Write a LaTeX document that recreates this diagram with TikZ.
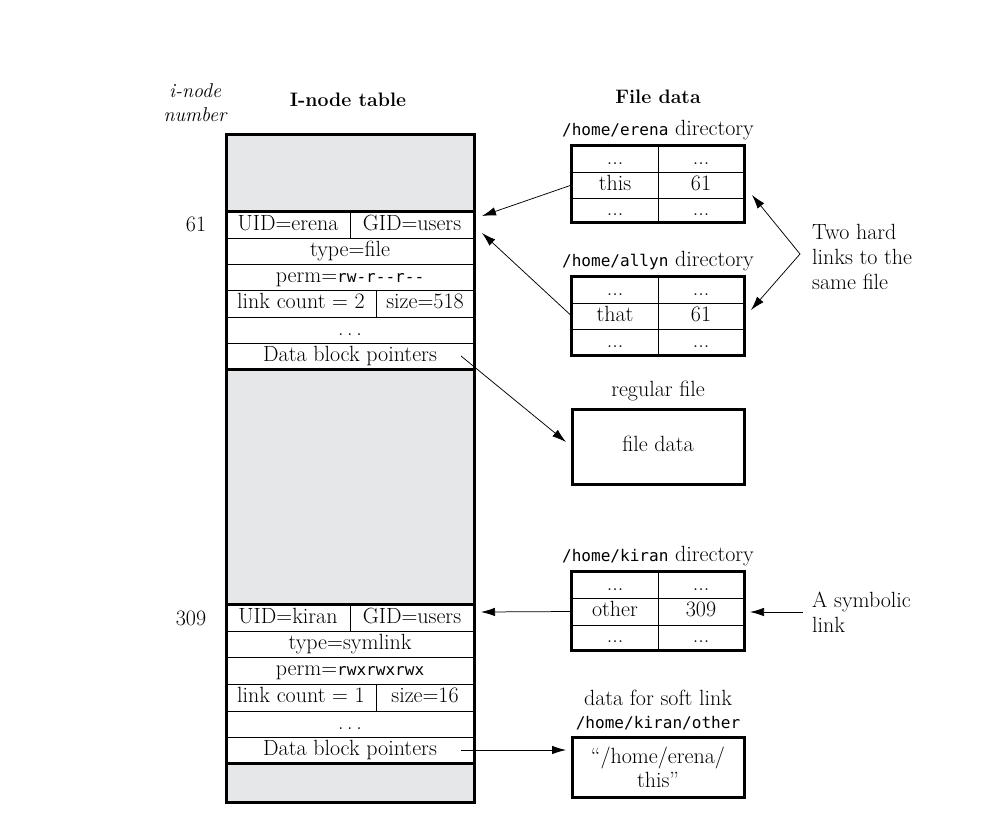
\documentclass[tikz,border=0pt]{standalone}
\usepackage{fontspec}
\setmonofont{DejaVu Sans Mono}[Scale=0.73]
\usetikzlibrary{arrows.meta}
\definecolor{tablegray}{HTML}{E6E7E8}
\begin{document}
\begin{tikzpicture}[x=1pt,y=-1pt,
  txt/.style={font=\fontsize{22}{25}\selectfont, inner sep=0pt},
  cell/.style={draw, line width=0.7pt, fill=white, inner sep=0pt, minimum height=26pt,
    font=\fontsize{22}{25}\selectfont, text height=14.5pt, text depth=4.5pt},
  frame/.style={line width=3pt},
  arr/.style={-{Latex[length=14pt,width=8.5pt]}, line width=0.75pt}]
\useasboundingbox (0,0) rectangle (981,814);

% headings
\node[txt, font=\fontsize{20}{24}\selectfont\itshape, align=center] (inum) at (195,103) {i-node\\number};
\node[txt, font=\fontsize{19.5}{23}\selectfont\bfseries] (ititle) at (348,100) {I-node table};
\node[txt, font=\fontsize{19.5}{23}\selectfont\bfseries] (ftitle) at (658,97) {File data};

% i-node table background
\node[fill=tablegray, inner sep=0pt, minimum width=248pt, minimum height=668pt, anchor=north west] (itable) at (226,134) {};

% i-node 61
\node[cell, minimum width=124pt] (u61) at (288,225) {UID=erena};
\node[cell, minimum width=124pt] (g61) at (412,225) {GID=users};
\node[cell, minimum width=248pt] (t61) at (350,251) {type=file};
\node[cell, minimum width=248pt] (p61) at (350,277) {perm=\texttt{rw-r--r--}};
\node[cell, minimum width=150pt, minimum height=27pt] (l61) at (301,303.5) {link count = 2};
\node[cell, minimum width=98pt, minimum height=27pt] (s61) at (425,303.5) {size=518};
\node[cell, minimum width=248pt] (d61) at (350,330) {.\,.\,.};
\node[cell, minimum width=248pt] (b61) at (350,356) {Data block pointers};

% i-node 309
\node[cell, minimum width=124pt] (u309) at (288,618) {UID=kiran};
\node[cell, minimum width=124pt] (g309) at (412,618) {GID=users};
\node[cell, minimum width=248pt] (t309) at (350,644) {type=symlink};
\node[cell, minimum width=248pt, minimum height=27pt] (p309) at (350,670.5) {perm=\texttt{rwxrwxrwx}};
\node[cell, minimum width=150pt, minimum height=27pt] (l309) at (301,697.5) {link count = 1};
\node[cell, minimum width=98pt, minimum height=27pt] (s309) at (425,697.5) {size=16};
\node[cell, minimum width=248pt] (d309) at (350,724) {.\,.\,.};
\node[cell, minimum width=248pt] (b309) at (350,750) {Data block pointers};

% thick lines of i-node table
\draw[frame] (itable.north west) rectangle (itable.south east);
\draw[frame] (u61.north west) -- (g61.north east);
\draw[frame] (b61.south west) -- (b61.south east);
\draw[frame] (u309.north west) -- (g309.north east);
\draw[frame] (b309.south west) -- (b309.south east);

\node[txt] (n61) at (196,224) {61};
\node[txt] (n309) at (191,618) {309};

% /home/erena directory
\node[txt] (lerena) at (658,130) {\texttt{/home/erena} directory};
\node[cell, minimum width=86pt] (e11) at (615,159) {...};
\node[cell, minimum width=86pt] (e12) at (701,159) {...};
\node[cell, minimum width=86pt] (e21) at (615,185) {this};
\node[cell, minimum width=86pt] (e22) at (701,185) {61};
\node[cell, minimum width=86pt, minimum height=24pt] (e31) at (615,210) {...};
\node[cell, minimum width=86pt, minimum height=24pt] (e32) at (701,210) {...};
\draw[frame] (e11.north west) rectangle (e32.south east);

% /home/allyn directory
\node[txt] (lallyn) at (658,261) {\texttt{/home/allyn} directory};
\node[cell, minimum width=86pt] (a11) at (615,290) {...};
\node[cell, minimum width=86pt] (a12) at (701,290) {...};
\node[cell, minimum width=86pt] (a21) at (615,316) {that};
\node[cell, minimum width=86pt] (a22) at (701,316) {61};
\node[cell, minimum width=86pt] (a31) at (615,342) {...};
\node[cell, minimum width=86pt] (a32) at (701,342) {...};
\draw[frame] (a11.north west) rectangle (a32.south east);

% regular file
\node[txt] (lreg) at (658,391) {regular file};
\node[cell, line width=3pt, minimum width=172pt, minimum height=75pt] (fdata) at (658,446.5) {file data};

% /home/kiran directory
\node[txt] (lkiran) at (658,556) {\texttt{/home/kiran} directory};
\node[cell, minimum width=86pt] (k11) at (615,585) {...};
\node[cell, minimum width=86pt] (k12) at (701,585) {...};
\node[cell, minimum width=86pt, minimum height=27pt] (k21) at (615,611.5) {other};
\node[cell, minimum width=86pt, minimum height=27pt] (k22) at (701,611.5) {309};
\node[cell, minimum width=86pt, minimum height=25pt] (k31) at (615,637.5) {...};
\node[cell, minimum width=86pt, minimum height=25pt] (k32) at (701,637.5) {...};
\draw[frame] (k11.north west) rectangle (k32.south east);

% soft link data
\node[txt, align=center, font=\fontsize{22}{23}\selectfont] (lsoft) at (658,710) {data for soft link\\\texttt{/home/kiran/other}};
\node[draw, line width=3pt, fill=white, minimum width=172pt, minimum height=60pt, inner sep=0pt,
  font=\fontsize{22}{24}\selectfont, align=center] (sdata) at (658,767) {``/home/erena/\\this''};

% notes
\node[txt, align=left, anchor=west] (hard) at (812,257) {Two hard\\links to the\\same file};
\node[txt, align=left, anchor=west] (sym) at (812,612) {A symbolic\\link};

% connector end points
\coordinate (h61a) at (482,216);
\coordinate (h61b) at (482,233);
\coordinate (h309) at (481,612);
\coordinate (hardsrc) at (800,254);
\coordinate (symsrc) at (803,612);
\coordinate (b61s) at (461,356);
\coordinate (b309s) at (461,750);
\coordinate (fdin) at (566,442);
\coordinate (sdin) at (566,750);
\coordinate (etip) at (752,195);
\coordinate (atip) at (751,310);
\coordinate (ktip) at (750,612);

% connectors
\draw[arr] (e21.west) -- (h61a);
\draw[arr] (a21.west) -- (h61b);
\draw[arr] (b61s) -- (fdin);
\draw[arr] (hardsrc) -- (etip);
\draw[arr] (hardsrc) -- (atip);
\draw[arr] (k21.west) -- (h309);
\draw[arr] (symsrc) -- (ktip);
\draw[arr] (b309s) -- (sdin);
\end{tikzpicture}
\end{document}
